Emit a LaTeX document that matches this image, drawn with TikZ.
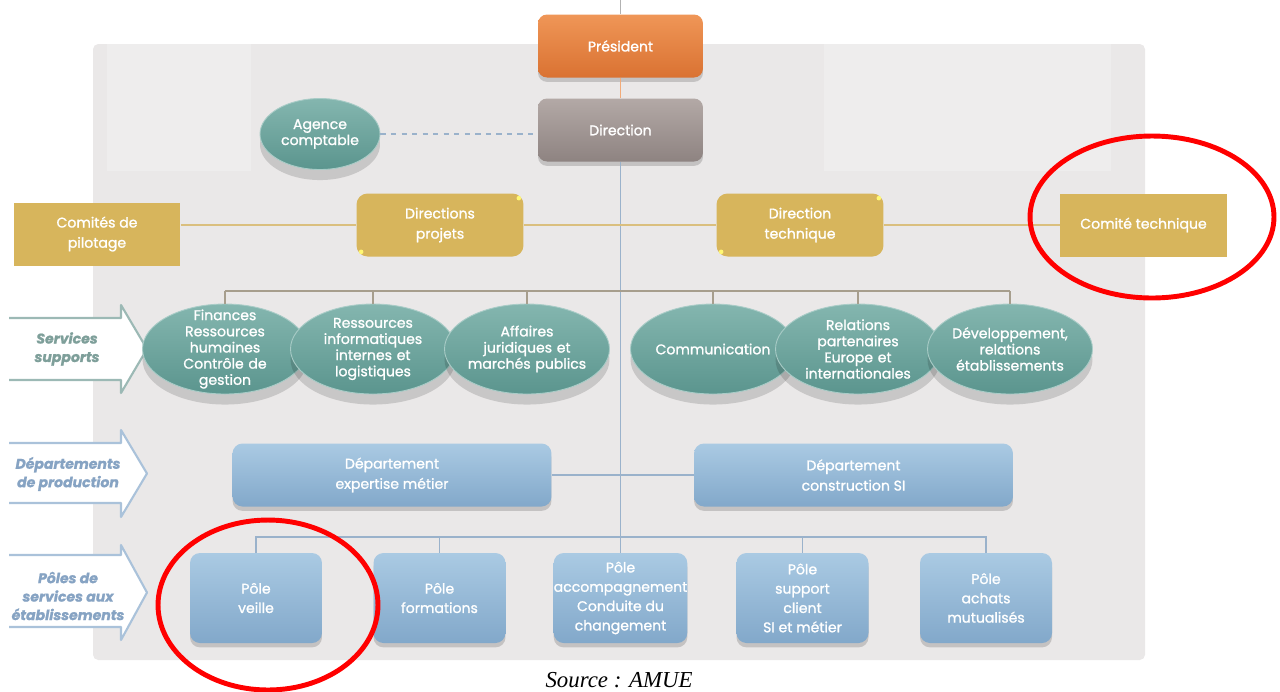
\documentclass[tikz,border=0pt]{standalone}
\usepackage{fontspec}
\setmainfont{Poppins}[FakeBold=1.2]
\newfontfamily\srcfont{Liberation Serif}
\usetikzlibrary{shapes.geometric,calc}

\definecolor{panelgray}{HTML}{EAE8E8}
\definecolor{panellight}{HTML}{EEEDED}
\definecolor{orangetop}{HTML}{EF9657}
\definecolor{orangebot}{HTML}{DA7232}
\definecolor{graytop}{HTML}{B3A9A6}
\definecolor{graybot}{HTML}{8E8381}
\definecolor{tealtop}{HTML}{84B6AF}
\definecolor{tealbot}{HTML}{5B958E}
\definecolor{gold}{HTML}{D7B55C}
\definecolor{goldline}{HTML}{DABF7E}
\definecolor{bluetop}{HTML}{AACAE3}
\definecolor{bluebot}{HTML}{82A8CA}
\definecolor{busblue}{HTML}{9AB2CB}
\definecolor{bustaupe}{HTML}{A79E8D}
\definecolor{svcline}{HTML}{9CB9B5}
\definecolor{svctext}{HTML}{7E9F9A}
\definecolor{prodline}{HTML}{AAC2DA}
\definecolor{prodtext}{HTML}{86A3C3}

\tikzset{
  txt/.style={text=white, align=center, inner sep=0pt},
  soft shadow/.style={preaction={fill=black, opacity=0.16,
      transform canvas={yshift=-2.5pt}}},
  oval shadow/.style={preaction={fill=black, opacity=0.14,
      transform canvas={yshift=-6pt}}},
  topbox/.style={txt, rectangle, rounded corners=0.18cm, soft shadow,
      minimum width=3.3cm, minimum height=1.26cm,
      font=\fontsize{8}{11}\selectfont},
  pres/.style={topbox, top color=orangetop, bottom color=orangebot},
  dirbox/.style={topbox, top color=graytop, bottom color=graybot},
  goldsq/.style={txt, rectangle, fill=gold, minimum width=3.34cm,
      minimum height=1.26cm, font=\fontsize{8}{11.5}\selectfont},
  goldround/.style={goldsq, rounded corners=0.22cm},
  oval/.style={txt, ellipse, top color=tealtop, bottom color=tealbot,
      draw=tealtop!70!white, line width=0.5pt, oval shadow,
      text width=2.7cm, inner sep=-0.35cm},
  agence/.style={oval, text width=2.1cm, minimum width=2.4cm,
      minimum height=1.42cm, font=\fontsize{8}{8}\selectfont},
  svc/.style={oval, minimum width=3.3cm, minimum height=1.8cm,
      font=\fontsize{8}{9.2}\selectfont},
  bluebox/.style={txt, rectangle, rounded corners=0.2cm, soft shadow,
      top color=bluetop, bottom color=bluebot,
      font=\fontsize{8}{11.5}\selectfont},
  dept/.style={bluebox, minimum width=6.38cm, minimum height=1.26cm},
  pole/.style={bluebox, minimum width=2.64cm, minimum height=1.8cm,
      font=\fontsize{8}{11}\selectfont},
  sidelabel/.style={align=center, inner sep=0pt,
      font=\fontsize{8}{10.5}\selectfont\bfseries\itshape},
  redmark/.style={ellipse, draw=red, line width=2.8pt, inner sep=0pt},
}

\begin{document}
\begin{tikzpicture}[x=0.02cm, y=-0.02cm]
\useasboundingbox (0,0) rectangle (1280,691);

% grey panel behind the chart
\fill[panelgray, rounded corners=3pt] (93,44) rectangle (1145,660);
\fill[panellight] (107,44) rectangle (251,171);
\fill[panellight] (824,44) rectangle (1111,171);

% side arrows
\foreach \yt/\yb/\ht/\hb/\col in {318/380/305/393/svcline,
                                 443/503/430/517/prodline,
                                 555/627/545/640/prodline}
  \draw[\col, line width=1.2pt, fill=white, line join=round]
    (9,\yt) -- (121,\yt) -- (121,\ht) -- (147,{(\ht+\hb)/2})
    -- (121,\hb) -- (121,\yb) -- (9,\yb);
\node[sidelabel, text=svctext] (lsvc) at (67,349) {Services\\supports};
\node[sidelabel, text=prodtext] (lprod) at (68,474) {Départements\\de production};
\node[sidelabel, text=prodtext] (lpole) at (68,596) {Pôles de\\services aux\\établissements};

% top of the chart
\coordinate (top) at (620.5,0);
\node[pres] (pres) at (620.5,46) {Président};
\node[dirbox] (dir) at (620.5,130) {Direction};
\node[agence] (agence) at (320,134) {Agence\\comptable};

\node[goldsq] (cpil) at (97,234) {Comités de\\pilotage};
\node[goldround] (dproj) at (440,225) {Directions\\projets};
\node[goldround] (dtech) at (800,225) {Direction\\technique};
\node[goldsq] (ctech) at (1143.5,225) {Comité technique};
\foreach \n in {dproj,dtech} {
  \fill[yellow!55!white] ([shift={(-5,5)}]\n.north east) circle (1.3pt);
  \fill[yellow!55!white] ([shift={(5,-5)}]\n.south west) circle (1.3pt);
}

% services supports
\foreach \n/\x/\t in {fin/225/{Finances\\Ressources\\humaines\\Contrôle de\\gestion},
    rinf/373/{Ressources\\informatiques\\internes et\\logistiques},
    aff/527/{Affaires\\juridiques et\\marchés publics},
    com/713/{Communication},
    rel/858/{Relations\\partenaires\\Europe et\\internationales},
    dev/1010/{Développement,\\relations\\établissements}}
  \node[svc] (\n) at (\x,349) {\t};

% departements
\node[dept] (dexp) at (392,475) {Département\\expertise métier};
\node[dept] (dcons) at (853.5,475) {Département\\construction SI};

% poles
\node[pole] (pveil) at (256,598) {Pôle\\veille};
\node[pole] (pform) at (439.5,598) {Pôle\\formations};
\node[pole] (pacc) at (620.5,598) {Pôle\\accompagnement\\Conduite du\\changement};
\node[pole] (psup) at (802.5,598) {Pôle\\support\\client\\SI et métier};
\node[pole] (pach) at (986,598) {Pôle\\achats\\mutualisés};

% links
\coordinate (sbus) at (0,291);
\coordinate (pbus) at (0,537);
\draw[gray!60, line width=0.5pt] (top) -- (pres.north);
\draw[orangetop!80!white, line width=0.7pt] (pres.south) -- (dir.north);
\draw[busblue, line width=0.7pt] (dir.south) -- (pacc.north);
\draw[busblue, dashed, line width=0.8pt] (agence.east) -- (dir.west |- agence.east);
\draw[goldline, line width=0.9pt] (cpil.east |- dproj.west) -- (dproj.west)
  (dproj.east) -- (dtech.west) (dtech.east) -- (ctech.west);
\draw[bustaupe, line width=0.6pt] (fin.north |- sbus) -- (dev.north |- sbus);
\foreach \n in {fin,rinf,aff,com,rel,dev}
  \draw[bustaupe, line width=0.6pt] (\n.north |- sbus) -- (\n.north);
\draw[busblue, line width=0.7pt] (dexp.east) -- (dcons.west);
\draw[busblue, line width=0.7pt] (pveil.north) -- (pveil.north |- pbus) -| (pach.north);
\foreach \n in {pform,psup}
  \draw[busblue, line width=0.7pt] (\n.north |- pbus) -- (\n.north);

% red marks
\node[redmark, minimum width=4.88cm, minimum height=3.24cm] (mtech) at (1152,217) {};
\node[redmark, minimum width=4.4cm, minimum height=3.4cm] (mveil) at (268,605) {};

\node[font=\srcfont\itshape\fontsize{13}{13}\selectfont] (src) at (619,680) {Source : AMUE};
\end{tikzpicture}
\end{document}
